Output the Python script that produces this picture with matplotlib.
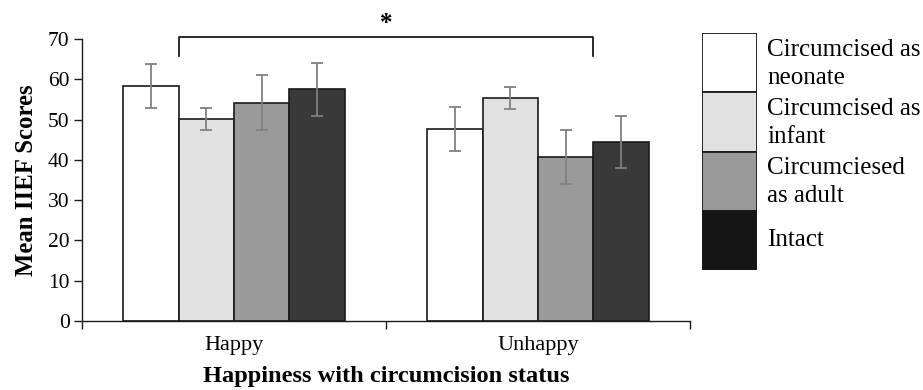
import matplotlib
matplotlib.use("Agg")
import matplotlib.pyplot as plt
from matplotlib.patches import Rectangle
import numpy as np

plt.rcParams['font.family'] = ['Liberation Serif', 'DejaVu Serif']

categories = ["Happy", "Unhappy"]
series = ["Circumcised as\nneonate", "Circumcised as\ninfant", "Circumciesed\nas adult", "Intact"]
means = {
    "neonate": [58.3, 47.6],
    "infant": [50.1, 55.4],
    "adult": [54.2, 40.7],
    "intact": [57.5, 44.4],
}
errors = {
    "neonate": [5.4, 5.4],
    "infant": [2.7, 2.7],
    "adult": [6.8, 6.8],
    "intact": [6.6, 6.5],
}
bar_colors = ["#ffffff", "#e1e1e1", "#9a9a9a", "#393939"]
legend_colors = ["#ffffff", "#e1e1e1", "#9a9a9a", "#161616"]

fig = plt.figure(figsize=(9.23, 3.9), dpi=100)
ax = fig.add_axes([82/923, (390-321)/390, 608/923, 282/390])

x = np.arange(len(categories))
n = len(means)
w = 0.73 / n
for i, key in enumerate(means):
    pos = x - 0.73/2 + w*(i+0.5)
    ax.bar(pos, means[key], width=w, color=bar_colors[i], edgecolor="#1a1a1a", linewidth=1.2, zorder=2)
    ax.errorbar(pos, means[key], yerr=errors[key], fmt="none", ecolor="#808080",
                elinewidth=1.3, capsize=4.5, capthick=1.3, zorder=3)

ax.set_xlim(-0.5, 1.5)
ax.set_ylim(0, 70)
ax.set_yticks(range(0, 71, 10))
ax.spines['top'].set_visible(False)
ax.spines['right'].set_visible(False)
for s in ['left', 'bottom']:
    ax.spines[s].set_linewidth(1.0)
    ax.spines[s].set_color("#1a1a1a")
ax.set_xticks([-0.5, 0.5, 1.5])
ax.set_xticklabels([])
ax.set_xticks(x, minor=True)
ax.set_xticklabels(categories, minor=True)
ax.tick_params(axis='x', which='major', direction='out', length=6, width=1.0, color="#1a1a1a")
ax.tick_params(axis='x', which='minor', length=0, labelsize=16, pad=11)
ax.tick_params(axis='y', direction='out', length=6, width=1.0, color="#1a1a1a", labelsize=15.5, pad=3)

ax.set_ylabel("Mean IIEF Scores", fontsize=17.8, fontweight='bold', labelpad=7)
ax.set_xlabel("Happiness with circumcision status", fontsize=17.6, fontweight='bold', labelpad=8)

# significance bracket
bx0 = x[0] - 0.73/2 + w*1.0
bx1 = x[1] - 0.73/2 + w*3.0
ax.plot([bx0, bx0, bx1, bx1], [65.7, 70.5, 70.5, 65.7], color="#1a1a1a", lw=1.3,
        clip_on=False, zorder=4)
ax.text((bx0+bx1)/2, 73.8, "*", ha='center', va='center', fontsize=18, fontweight='bold', clip_on=False)

# legend
lax = fig.add_axes([702/923, (390-270)/390, 55/923, 237/390])
lax.set_xlim(0, 1)
lax.set_ylim(0, 4)
lax.axis('off')
for i, c in enumerate(legend_colors):
    lax.add_patch(Rectangle((0, 3-i), 1, 1, facecolor=c, edgecolor="#1a1a1a", linewidth=1.3))
ptop = [33, 92, 151, 211]
for i, lab in enumerate(series):
    lines = lab.split("\n")
    if len(lines) == 2:
        ys = [ptop[i] + 17, ptop[i] + 45]
    else:
        ys = [ptop[i] + 29]
    for ln, yy in zip(lines, ys):
        fig.text(767/923, 1 - yy/390, ln, ha='left', va='center', fontsize=18)

fig.savefig("out.png", dpi=100)
